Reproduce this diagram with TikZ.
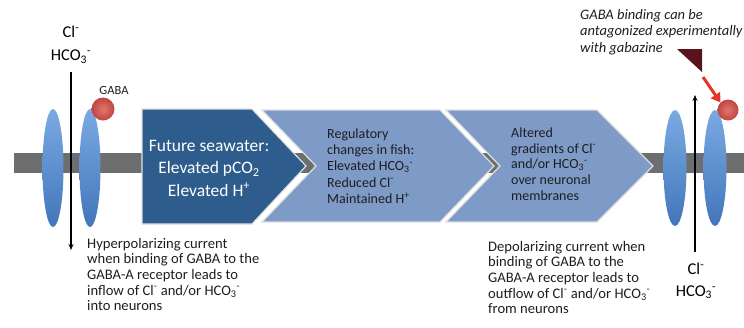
\documentclass[tikz,border=0pt]{standalone}
\usepackage{fontspec}
\setmainfont{Carlito}
\usetikzlibrary{shapes.geometric, arrows.meta, positioning}

\definecolor{membrane}{RGB}{108,110,112}
\definecolor{chanblue}{RGB}{66,118,186}
\definecolor{chanlight}{RGB}{122,170,226}
\definecolor{seablue}{RGB}{46,92,140}
\definecolor{fishblue}{RGB}{126,154,198}
\definecolor{gabared}{RGB}{190,70,66}
\definecolor{gabalight}{RGB}{226,118,110}
\definecolor{blocker}{RGB}{88,20,28}
\definecolor{hintred}{RGB}{232,52,40}
\definecolor{bodytext}{RGB}{30,30,34}

\newcommand{\clion}{Cl\textsuperscript{-}}
\newcommand{\hcoion}{HCO\textsubscript{3}\textsuperscript{-}}

\begin{document}
\begin{tikzpicture}[x=1pt, y=-1pt,
    channel/.style={ellipse, inner sep=0pt, minimum width=21pt, minimum height=118pt, top color=chanlight, bottom color=chanblue},
    ligand/.style={circle, inner sep=0pt, minimum size=23pt, inner color=gabalight, outer color=gabared},
    chevron/.style={draw=gray!25, line width=1.2pt, line join=miter},
    ion/.style={font=\fontsize{16.5}{23}\selectfont, align=center, inner sep=0pt, text=black},
    boxtext/.style={font=\fontsize{14}{16.3}\selectfont, align=left, anchor=west, inner sep=0pt, text=bodytext},
    caption/.style={font=\fontsize{14.6}{15.6}\selectfont, align=left, anchor=north west, inner sep=0pt, text=bodytext},
    flux/.style={-{Stealth[length=6pt, width=5pt]}, line width=1.3pt}]
  \useasboundingbox (0,0) rectangle (744,327);

  % Membrane
  \fill[membrane] (14,153) rectangle (744,173);

  % Channels, left side
  \node[channel] (chanL1) at (53,168) {};
  \node[channel] (chanL2) at (90,168) {};
  \node[ligand] (gabaL) at (103,109) {};
  \node[font=\fontsize{12.5}{14}\selectfont, text=bodytext, inner sep=0pt] (gabaLbl) at (114,90) {GABA};

  % Channels, right side
  \node[channel, minimum width=23pt, minimum height=116pt] (chanR1) at (675,168) {};
  \node[channel, minimum width=23pt, minimum height=116pt] (chanR2) at (715,168) {};
  \node[ligand, minimum size=21pt] (gabaR) at (728,110) {};

  % Chevrons
  \filldraw[chevron, fill=seablue] (142,109) -- (252,109) -- (306,166) -- (252,224) -- (142,224) -- cycle;
  \filldraw[chevron, fill=fishblue] (262,110) -- (440,110) -- (494,166) -- (440,222) -- (262,222) -- (316,166) -- cycle;
  \filldraw[chevron, fill=fishblue] (446,110) -- (597,110) -- (653,166) -- (597,222) -- (446,222) -- (500,166) -- cycle;

  \node[font=\fontsize{17.5}{22.5}\selectfont, text=white, align=center, inner sep=0pt] (sea) at (209,168)
    {Future seawater:\\Elevated pCO\textsubscript{2}\\Elevated H\textsuperscript{+}};
  \node[boxtext] (fish) at (327,166)
    {Regulatory\\changes in fish:\\Elevated \hcoion\\Reduced \clion\\Maintained H\textsuperscript{+}};
  \node[boxtext, font=\fontsize{14}{15.6}\selectfont] (grad) at (511,164)
    {Altered\\gradients of \clion\\and/or \hcoion\\over neuronal\\membranes};

  % Ion flows
  \node[ion] (ionL) at (71,45) {\clion\\\hcoion};
  \coordinate (inTop) at (71,72);
  \coordinate (inEnd) at (71,250);
  \draw[flux] (inTop) -- (inEnd);

  \node[ion, font=\fontsize{16.5}{22}\selectfont] (ionR) at (696,281) {\clion\\\hcoion};
  \coordinate (outStart) at (695,252);
  \coordinate (outTop) at (695,95);
  \draw[flux] (outStart) -- (outTop);

  % Captions
  \node[caption] (hyper) at (87,238)
    {Hyperpolarizing current\\when binding of GABA to the\\GABA-A receptor leads to\\inflow of \clion{} and/or \hcoion\\into neurons};
  \node[caption] (depol) at (488,241)
    {Depolarizing current when\\binding of GABA to the\\GABA-A receptor leads to\\outflow of \clion{} and/or \hcoion\\from neurons};

  % Gabazine
  \node[caption, font=\fontsize{14.5}{16.5}\selectfont\itshape] (note) at (580,9)
    {GABA binding can be\\antagonized experimentally\\with gabazine};
  \fill[blocker] (677,49) -- (702,49) -- (702,72) -- cycle;
  \coordinate (block) at (703,77);
  \draw[hintred, line width=3pt, -{Triangle[length=9pt, width=11pt]}] (block) -- (gabaR.north west);
\end{tikzpicture}
\end{document}
